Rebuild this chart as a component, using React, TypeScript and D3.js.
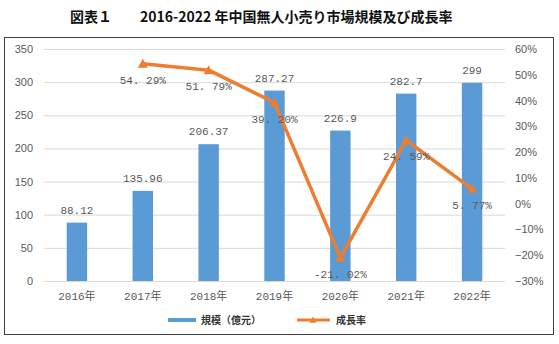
import React from 'react'
import { scaleBand, scaleLinear, line } from 'd3'

const years = ['2016年', '2017年', '2018年', '2019年', '2020年', '2021年', '2022年']
const scale = [88.12, 135.96, 206.37, 287.27, 226.9, 282.7, 299]
const scaleLabels = ['88.12', '135.96', '206.37', '287.27', '226.9', '282.7', '299']
const growth: (number | null)[] = [null, 54.29, 51.79, 39.2, -21.02, 24.59, 5.77]
const growthLabels = ['', '54. 29%', '51. 79%', '39. 20%', '-21. 02%', '24. 59%', '5. 77%']
const leftTicks = [0, 50, 100, 150, 200, 250, 300, 350]
const rightTicks = [-30, -20, -10, 0, 10, 20, 30, 40, 50, 60]

const W = 559
const H = 344
const blue = '#5B9BD5'
const orange = '#ED7D31'
const grey = '#595959'
const mono = '"Liberation Mono", "Noto Sans CJK JP", monospace'
const sans = '"Liberation Sans", Arial, sans-serif'
const cjk = '"Noto Sans CJK JP", sans-serif'

function App() {
    const x = scaleBand<string>().domain(years).range([44, 505]).paddingInner(0.69).paddingOuter(0.345)
    const y = scaleLinear().domain([0, 350]).range([281, 49])
    const y2 = scaleLinear().domain([-30, 60]).range([281, 49])
    const cx = (d: string) => (x(d) as number) + x.bandwidth() / 2

    const pts = years
        .map((d, i) => ({ d, v: growth[i], label: growthLabels[i] }))
        .filter(p => p.v !== null) as { d: string; v: number; label: string }[]

    const path = line<{ d: string; v: number }>()
        .x(p => cx(p.d))
        .y(p => y2(p.v))(pts)

    const tri = (px: number, py: number, s = 5) =>
        `M${px},${py - s} L${px + s},${py + s * 0.8} L${px - s},${py + s * 0.8} Z`

    return (
        <svg width={W} height={H} style={{ position: 'absolute', left: 0, top: 0, background: '#fff' }}>
            <text y={22} fontFamily={cjk} fontWeight="bold" fontSize={14} fill="#111">
                <tspan x={70}>図表１</tspan>
                <tspan x={140}>2016-2022 年中国無人小売り市場規模及び成長率</tspan>
            </text>
            <rect x={4.5} y={37.5} width={549} height={297} fill="none" stroke="#404040" strokeWidth={1} />

            {leftTicks.map(t => (
                <g key={t}>
                    <line x1={44} x2={505} y1={y(t) + 0.5} y2={y(t) + 0.5} stroke="#d9d9d9" />
                    <text x={33} y={y(t) + 4} textAnchor="end" fontFamily={sans} fontSize={11} fill={grey}>
                        {t}
                    </text>
                </g>
            ))}
            {rightTicks.map(t => (
                <text key={t} x={515} y={y2(t) + 4} fontFamily={sans} fontSize={11} fill={grey}>
                    {t < 0 ? '−' + Math.abs(t) : t}%
                </text>
            ))}

            {years.map((d, i) => (
                <g key={d}>
                    <rect x={x(d)} y={y(scale[i])} width={x.bandwidth()} height={281 - y(scale[i])} fill={blue} />
                    <text x={cx(d)} y={y(scale[i]) - 9} textAnchor="middle" fontFamily={mono} fontSize={11} fill={grey}>
                        {scaleLabels[i]}
                    </text>
                    <text x={cx(d)} y={300} textAnchor="middle" fontFamily={mono} fontSize={11} fill={grey}>
                        {d}
                    </text>
                </g>
            ))}

            <path d={path || ''} fill="none" stroke={orange} strokeWidth={3.5} strokeLinejoin="round" />
            {pts.map(p => (
                <path key={p.d} d={tri(cx(p.d), y2(p.v))} fill={orange} />
            ))}
            {pts.map(p => (
                <text
                    key={p.d + 'l'}
                    x={cx(p.d)}
                    y={y2(p.v) + 20}
                    textAnchor="middle"
                    fontFamily={mono}
                    fontSize={11}
                    fill={grey}
                >
                    {p.label}
                </text>
            ))}

            <rect x={168} y={318} width={28} height={4} fill={blue} />
            <text x={201} y={324} fontFamily={cjk} fontSize={10} fontWeight="bold" fill="#333">
                規模（億元）
            </text>
            <line x1={297} x2={330} y1={320} y2={320} stroke={orange} strokeWidth={3} />
            <path d={tri(313, 320, 3.5)} fill={orange} />
            <text x={336} y={324} fontFamily={cjk} fontSize={10} fontWeight="bold" fill="#333">
                成長率
            </text>
        </svg>
    )
}

export default App
